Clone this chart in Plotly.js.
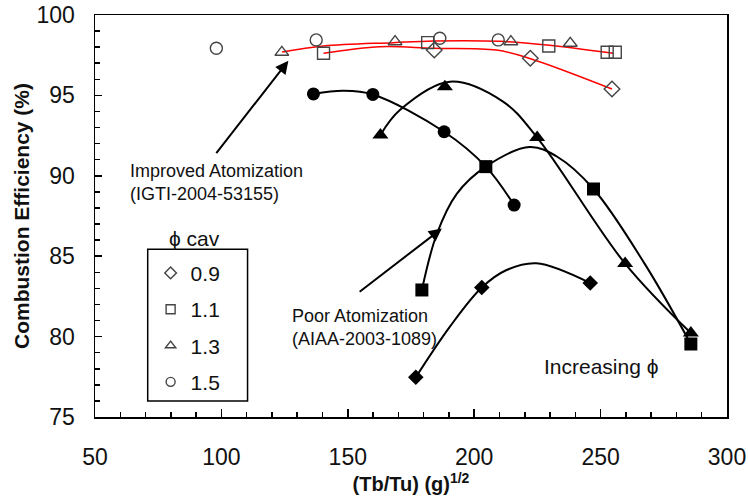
<!DOCTYPE html>
<html>
<head>
<meta charset="utf-8">
<script src="https://cdn.plot.ly/plotly-3.0.1.min.js"></script>
<style>html,body{margin:0;padding:0;background:#fff;}#chart{width:748px;height:499px;}</style>
</head>
<body>
<div id="chart"></div>
<script>
// ---- Open markers: improved atomization (IGTI-2004-53155), by phi cav ----
const openD_x = [184.2, 222.2, 254.5];          // phi cav 0.9
const openD_y = [97.82, 97.31, 95.40];
const openS_x = [140.4, 181.6, 229.5, 252.6, 255.8]; // phi cav 1.1
const openS_y = [97.62, 98.28, 98.07, 97.68, 97.68];
const openT_x = [123.9, 168.7, 214.5, 238.0];   // phi cav 1.3
const openT_y = [97.68, 98.34, 98.34, 98.24];
const openC_x = [98.0, 137.5, 186.4, 209.5];    // phi cav 1.5
const openC_y = [97.93, 98.45, 98.55, 98.45];

// red trend curves
const red1_x = [124.0, 140.4, 168.0, 183.8, 210.1, 228.6, 254.9];
const red1_y = [97.70, 98.07, 98.28, 98.38, 98.36, 98.13, 97.62];
const red2_x = [140.4, 162.7, 183.8, 208.8, 222.0, 254.5];
const red2_y = [97.62, 98.03, 97.93, 97.82, 97.30, 95.40];

// ---- Filled markers: poor atomization (AIAA-2003-1089) ----
const fillD_x = [176.9, 203.0, 245.9];
const fillD_y = [77.47, 83.05, 83.33];
const fillS_x = [179.3, 204.6, 247.2, 285.7];
const fillS_y = [82.90, 90.57, 89.18, 79.54];
const fillT_x = [162.9, 188.4, 224.9, 259.7, 285.7];
const fillT_y = [92.54, 95.54, 92.38, 84.54, 80.22];
const fillC_x = [136.4, 159.9, 188.1, 215.8];
const fillC_y = [95.09, 95.06, 92.74, 88.18];

// black trend curves
const curveD_x = [176.9, 190.4, 203.0, 212.8, 224.6, 245.9];
const curveD_y = [77.47, 80.62, 83.05, 84.14, 84.56, 83.33];
const curveS_x = [179.3, 185.2, 193.1, 204.6, 222.0, 233.0, 247.2, 267.4, 285.7];
const curveS_y = [82.90, 86.38, 88.88, 90.57, 91.79, 91.17, 89.18, 84.54, 79.54];
const curveT_x = [162.9, 170.6, 190.4, 211.4, 224.9, 259.7, 285.7];
const curveT_y = [92.54, 94.09, 95.85, 94.61, 92.38, 84.54, 80.22];
const curveC_x = [136.4, 148.2, 159.9, 188.1, 204.6, 215.8];
const curveC_y = [95.09, 95.29, 95.06, 92.74, 90.57, 88.18];

const legendNames = ['0.9', '1.1', '1.3', '1.5'];
const legendSymbols = ['diamond-open', 'square-open', 'triangle-up-open', 'circle-open'];

const FONT = 'Liberation Sans, Arial, sans-serif';
const GREY = '#444';

function openTrace(x, y, sym) {
  return {x: x, y: y, type: 'scatter', mode: 'markers', showlegend: false, hoverinfo: 'skip',
    marker: {symbol: sym, size: 12, color: GREY, line: {width: 1.4, color: GREY}}};
}
function fillTrace(x, y, sym, size) {
  return {x: x, y: y, type: 'scatter', mode: 'markers', showlegend: false, hoverinfo: 'skip',
    marker: {symbol: sym, size: size, color: '#000', line: {width: 0}}};
}
function curve(x, y, color, w) {
  return {x: x, y: y, type: 'scatter', mode: 'lines', showlegend: false, hoverinfo: 'skip',
    line: {shape: 'spline', smoothing: 1, color: color, width: w}};
}

const traces = [
  curve(red1_x, red1_y, '#ff0000', 1.5),
  curve(red2_x, red2_y, '#ff0000', 1.5),
  curve(curveD_x, curveD_y, '#000', 2),
  curve(curveS_x, curveS_y, '#000', 2),
  curve(curveT_x, curveT_y, '#000', 2),
  curve(curveC_x, curveC_y, '#000', 2),
  openTrace(openD_x, openD_y, 'diamond-open'),
  openTrace(openS_x, openS_y, 'square-open'),
  openTrace(openT_x, openT_y, 'triangle-up-open'),
  openTrace(openC_x, openC_y, 'circle-open'),
  fillTrace(fillD_x, fillD_y, 'diamond', 12),
  fillTrace(fillS_x, fillS_y, 'square', 13),
  fillTrace(fillT_x, fillT_y, 'triangle-up', 14),
  fillTrace(fillC_x, fillC_y, 'circle', 13)
];
legendNames.forEach(function (n, i) {
  traces.push({x: [null], y: [null], type: 'scatter', mode: 'markers', name: n,
    legendgroup: 'g' + i, showlegend: true,
    marker: {symbol: legendSymbols[i], size: 9, color: GREY, line: {width: 1.4, color: GREY}}});
});

const layout = {
  width: 748, height: 499,
  margin: {l: 95, r: 21, t: 15, b: 82},
  paper_bgcolor: '#fff', plot_bgcolor: '#fff',
  font: {family: FONT, color: '#111'},
  showlegend: true,
  legend: {x: 0.088, y: 0.4085, xanchor: 'left', yanchor: 'top', bgcolor: 'rgba(0,0,0,0)',
    borderwidth: 0, font: {family: FONT, size: 21, color: '#111'}, tracegroupgap: 6},
  xaxis: {range: [50, 300], dtick: 50, tick0: 50, ticks: 'inside', ticklen: 8, tickwidth: 1.5,
    tickcolor: '#000', showline: true, linewidth: 1.5, linecolor: '#000', mirror: true,
    showgrid: false, zeroline: false, ticklabelstandoff: 19,
    tickfont: {family: FONT, size: 23, color: '#111'},
    minor: {dtick: 10, ticks: 'inside', ticklen: 5, tickwidth: 1.5, tickcolor: '#000', showgrid: false},
    title: {text: '(Tb/Tu) (g)<sup>1/2</sup>', standoff: 6,
      font: {family: FONT, size: 20, weight: 'bold', color: '#111'}}},
  yaxis: {range: [75, 100], dtick: 5, tick0: 75, ticks: 'inside', ticklen: 7, tickwidth: 1.5,
    tickcolor: '#000', showline: true, linewidth: 1.5, linecolor: '#000', mirror: true,
    showgrid: false, zeroline: false, ticklabelstandoff: 14,
    tickfont: {family: FONT, size: 23, color: '#111'},
    minor: {dtick: 1, ticks: 'inside', ticklen: 5, tickwidth: 1.5, tickcolor: '#000', showgrid: false},
    title: {text: 'Combustion Efficiency (%)', standoff: 1,
      font: {family: FONT, size: 21, weight: 'bold', color: '#111'}}},
  shapes: [
    {type: 'rect', xref: 'paper', yref: 'paper', x0: 0.0834, x1: 0.2414, y0: 0.0398, y1: 0.4172,
      line: {color: '#000', width: 1.5}, fillcolor: 'rgba(0,0,0,0)'}
  ],
  annotations: [
    {xref: 'paper', yref: 'paper', x: 0.157, y: 0.445, text: 'ϕ cav', showarrow: false,
      font: {family: FONT, size: 21, color: '#111'}, xanchor: 'center', yanchor: 'middle'},
    {xref: 'x', yref: 'y', x: 63.0, y: 89.6, xanchor: 'left', yanchor: 'middle', align: 'left',
      text: 'Improved Atomization<br>(IGTI-2004-53155)', showarrow: false,
      font: {family: FONT, size: 18, color: '#111'}},
    {xref: 'x', yref: 'y', x: 127.0, y: 80.57, xanchor: 'left', yanchor: 'middle', align: 'left',
      text: 'Poor Atomization<br>(AIAA-2003-1089)', showarrow: false,
      font: {family: FONT, size: 18, color: '#111'}},
    {xref: 'x', yref: 'y', x: 226.8, y: 78.17, xanchor: 'left', yanchor: 'middle',
      text: 'Increasing ϕ', showarrow: false, font: {family: FONT, size: 21, color: '#111'}},
    {xref: 'x', yref: 'y', axref: 'x', ayref: 'y', x: 126.5, y: 97.16, ax: 96.8, ay: 91.17,
      text: ' ', showarrow: true, arrowhead: 2, arrowsize: 1.3, arrowwidth: 2, arrowcolor: '#000'},
    {xref: 'x', yref: 'y', axref: 'x', ayref: 'y', x: 187.2, y: 86.72, ax: 153.5, ay: 82.65,
      text: ' ', showarrow: true, arrowhead: 2, arrowsize: 1.3, arrowwidth: 2, arrowcolor: '#000'}
  ]
};

Plotly.newPlot('chart', traces, layout, {staticPlot: true, displayModeBar: false});
</script>
</body>
</html>
